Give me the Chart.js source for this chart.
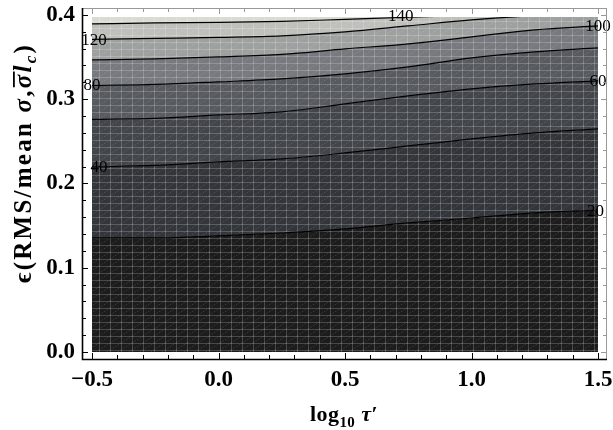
<!DOCTYPE html>
<html>
<head>
<meta charset="utf-8">
<script src="https://cdn.jsdelivr.net/npm/chart.js@4"></script>
<style>
  html, body { margin: 0; padding: 0; background: #fff; }
  #wrap { width: 613px; height: 430px; }
</style>
</head>
<body>
<div id="wrap"><canvas id="contour" width="613" height="430"></canvas></div>
<script>
// log10 tau' sample positions
const xs = [-0.5, -0.25, 0, 0.25, 0.5, 0.75, 1.0, 1.25, 1.5];
const levels = [20, 40, 60, 80, 100, 120, 140];
// epsilon value of each contour level at xs (120/140 leave the plot at the top)
const eps20  = [0.1353, 0.1353, 0.1377, 0.1412, 0.1460, 0.1531, 0.1590, 0.1650, 0.1685];
const eps40  = [0.2196, 0.2214, 0.2255, 0.2291, 0.2362, 0.2445, 0.2528, 0.2599, 0.2647];
const eps60  = [0.2760, 0.2772, 0.2813, 0.2849, 0.2944, 0.3039, 0.3122, 0.3181, 0.3217];
const eps80  = [0.3163, 0.3175, 0.3205, 0.3240, 0.3300, 0.3383, 0.3490, 0.3561, 0.3608];
const eps100 = [0.3466, 0.3478, 0.3501, 0.3531, 0.3596, 0.3656, 0.3739, 0.3822, 0.3869];
const eps120 = [0.3709, 0.3721, 0.3733, 0.3751, 0.3798, 0.3869, 0.3941, 0.3990, 0.4010];
const eps140 = [0.3893, 0.3905, 0.3911, 0.3923, 0.3947, 0.3972, 0.3995, 0.4012, 0.4025];
const bandTop = [0.42, 0.42, 0.42, 0.42, 0.42, 0.42, 0.42, 0.42, 0.42];

const xTicks = [-0.5, 0, 0.5, 1.0, 1.5];
const yTicks = [0, 0.1, 0.2, 0.3, 0.4];
const xFrame = [-0.54, 1.536];
const yFrame = [-0.0083, 0.408];
const yPlotTop = 0.3975;

// level labels: [text, x, y]
const contourLabels = [
    ['120', -0.492, 0.3703], ['80', -0.5, 0.3169], ['40', -0.472, 0.2196],
    ['140', 0.72, 0.3988], ['100', 1.5, 0.3869], ['60', 1.5, 0.3217], ['20', 1.49, 0.1674]
];

const bandColors = ['#1c1c1c', '#323539', '#42454a', '#575b60', '#76797d', '#9ea09f', '#bfc0bb', '#dadad3'];

const canvas = document.getElementById('contour');
const ctx = canvas.getContext('2d');

function meshPattern(base) {
    const t = document.createElement('canvas');
    t.width = 11; t.height = 7;
    const g = t.getContext('2d');
    g.fillStyle = base;
    g.fillRect(0, 0, 11, 7);
    g.strokeStyle = 'rgba(255,255,255,0.2)';
    g.lineWidth = 1;
    g.beginPath();
    g.moveTo(0.5, 0); g.lineTo(0.5, 7);
    g.moveTo(0, 0.5); g.lineTo(11, 0.5);
    g.stroke();
    g.strokeStyle = 'rgba(255,255,255,0.14)';
    g.setLineDash([1.5, 1.5]);
    g.beginPath();
    g.moveTo(0, 7); g.lineTo(11, 0);
    g.stroke();
    return ctx.createPattern(t, 'repeat');
}

const pts = arr => xs.map((x, i) => ({x: x, y: arr[i]}));
const series = [eps20, eps40, eps60, eps80, eps100, eps120, eps140, bandTop];

const datasets = series.map((arr, i) => ({
    label: i < levels.length ? String(levels[i]) : 'top',
    data: pts(arr),
    fill: i === 0 ? 'origin' : '-1',
    backgroundColor: meshPattern(bandColors[i]),
    borderWidth: i < levels.length ? 1.2 : 0,
    borderColor: '#000',
    pointRadius: 0,
    cubicInterpolationMode: 'monotone'
}));

function drawParts(c, parts, cx, baseY, target) {
    let total = 0, n = 0;
    parts.forEach(p => { c.font = p.f; p.w = c.measureText(p.t).width; total += p.w; n += p.t.length; });
    const gap = target ? Math.max(0, (target - total) / n) : 0;
    let x = cx - (total + gap * n) / 2;
    c.textAlign = 'left';
    c.textBaseline = 'alphabetic';
    c.fillStyle = '#000';
    parts.forEach(p => {
        c.font = p.f;
        const x0 = x;
        for (const ch of p.t) {
            c.fillText(ch, x, baseY + p.dy);
            x += c.measureText(ch).width + gap;
        }
        if (p.bar) c.fillRect(x0 + 1, baseY - 18, x - x0, 1.8);
    });
}

const frame = {
    id: 'frame',
    afterDraw(chart) {
        const c = chart.ctx;
        const sx = chart.scales.x, sy = chart.scales.y;
        const L = Math.round(sx.getPixelForValue(xFrame[0]));
        const R = Math.round(sx.getPixelForValue(xFrame[1]));
        const T = Math.round(sy.getPixelForValue(yFrame[1]));
        const B = Math.round(sy.getPixelForValue(yFrame[0]));
        c.save();
        // contour labels
        c.font = '17px "Liberation Serif"';
        c.fillStyle = '#000';
        c.textAlign = 'center';
        c.textBaseline = 'middle';
        contourLabels.forEach(([t, x, y]) => c.fillText(t, sx.getPixelForValue(x), sy.getPixelForValue(y) + 1));

        const xMinor = [], yMinor = [];
        for (let k = -5; k <= 15; k++) xMinor.push({v: k / 10, major: k % 5 === 0});
        for (let k = 0; k <= 20; k++) yMinor.push({v: k / 50, major: k % 5 === 0});

        // top and right frame
        c.lineWidth = 1;
        c.strokeStyle = '#999';
        c.beginPath();
        c.moveTo(L, T + 0.5); c.lineTo(R, T + 0.5);
        c.moveTo(R - 0.5, T); c.lineTo(R - 0.5, B);
        xMinor.forEach(t => {
            const px = Math.round(sx.getPixelForValue(t.v)) + 0.5;
            c.moveTo(px, T); c.lineTo(px, T + (t.major ? 6 : 4));
        });
        yMinor.forEach(t => {
            const py = Math.round(sy.getPixelForValue(t.v)) + 0.5;
            c.moveTo(R, py); c.lineTo(R - (t.major ? 6 : 4), py);
        });
        c.stroke();

        // left and bottom axes
        c.strokeStyle = '#000';
        c.lineWidth = 1.6;
        c.beginPath();
        c.moveTo(L + 0.5, T); c.lineTo(L + 0.5, B + 0.5); c.lineTo(R, B + 0.5);
        c.stroke();
        c.lineWidth = 1;
        c.beginPath();
        xMinor.forEach(t => {
            const px = Math.round(sx.getPixelForValue(t.v)) + 0.5;
            c.moveTo(px, B); c.lineTo(px, B - (t.major ? 6 : 4));
        });
        yMinor.forEach(t => {
            const py = Math.round(sy.getPixelForValue(t.v)) + 0.5;
            c.moveTo(L, py); c.lineTo(L + (t.major ? 6 : 4), py);
        });
        c.stroke();

        // x title
        drawParts(c, [
            {t: 'log', f: 'bold 22px "Liberation Serif"', dy: 0},
            {t: '10', f: 'bold 15px "Liberation Serif"', dy: 6},
            {t: ' ', f: 'bold 22px "Liberation Serif"', dy: 0},
            {t: 'τ', f: 'bold italic 22px "Liberation Serif"', dy: 0},
            {t: '′', f: 'bold 22px "Liberation Serif"', dy: 0}
        ], 344, 421, 68);

        // y title
        c.save();
        c.translate(31, 163);
        c.rotate(-Math.PI / 2);
        drawParts(c, [
            {t: 'ϵ(RMS/mean ', f: 'bold 25px "Liberation Serif"', dy: 0},
            {t: 'σ', f: 'bold italic 25px "Liberation Serif"', dy: 0},
            {t: ',', f: 'bold 25px "Liberation Serif"', dy: 0},
            {t: 'σ', f: 'bold italic 25px "Liberation Serif"', dy: 0, bar: true},
            {t: 'l', f: 'bold italic 25px "Liberation Serif"', dy: 0},
            {t: 'c', f: 'bold italic 17px "Liberation Serif"', dy: 5},
            {t: ')', f: 'bold 25px "Liberation Serif"', dy: 0}
        ], 0, 0, 240);
        c.restore();
        c.restore();
    }
};

new Chart(ctx, {
    type: 'line',
    data: {datasets: datasets},
    options: {
        responsive: false,
        animation: false,
        layout: {padding: {left: 0, right: 15, top: 17, bottom: 0}},
        plugins: {
            legend: {display: false},
            tooltip: {enabled: false},
            filler: {drawTime: 'beforeDatasetsDraw'}
        },
        scales: {
            x: {
                type: 'linear',
                min: -0.5,
                max: 1.5,
                grid: {display: false, drawTicks: false},
                border: {display: false},
                afterBuildTicks: axis => { axis.ticks = xTicks.map(v => ({value: v})); },
                afterFit: axis => { axis.height = 78; axis.paddingLeft = 0; axis.paddingRight = 0; },
                ticks: {
                    padding: 14,
                    color: '#000',
                    font: {family: '"Liberation Serif"', size: 23, weight: 'bold'},
                    callback: v => (v < 0 ? '\u2212' : '') + Math.abs(v).toFixed(1)
                }
            },
            y: {
                type: 'linear',
                min: 0,
                max: yPlotTop,
                grid: {display: false, drawTicks: false},
                border: {display: false},
                afterBuildTicks: axis => { axis.ticks = yTicks.map(v => ({value: v})); },
                afterFit: axis => { axis.width = 92; axis.paddingTop = 0; axis.paddingBottom = 0; },
                ticks: {
                    padding: 17,
                    color: '#000',
                    font: {family: '"Liberation Serif"', size: 23, weight: 'bold'},
                    callback: v => v.toFixed(1)
                }
            }
        }
    },
    plugins: [frame]
});
</script>
</body>
</html>
